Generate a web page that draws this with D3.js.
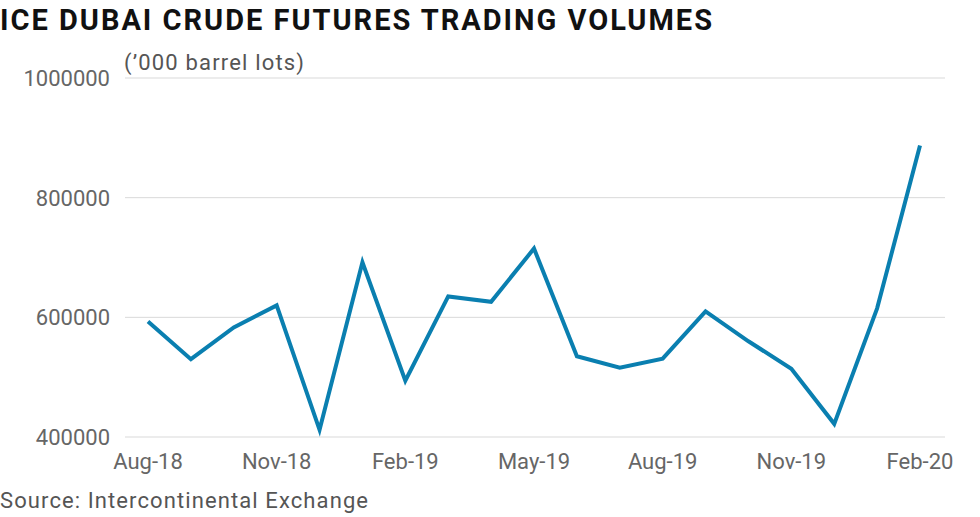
<!DOCTYPE html>
<html><head><meta charset="utf-8">
<script src="https://cdn.jsdelivr.net/npm/d3@7"></script>
<style>body{margin:0;background:#fff;font-family:Roboto,"Noto Sans",sans-serif;}</style>
</head><body><svg id="c" width="980" height="517"></svg>
<script>
const months=["Aug-18","Sep-18","Oct-18","Nov-18","Dec-18","Jan-19","Feb-19","Mar-19","Apr-19","May-19","Jun-19","Jul-19","Aug-19","Sep-19","Oct-19","Nov-19","Dec-19","Jan-20","Feb-20"];
const volumes=[593000,530000,583000,620000,412000,692000,494000,635000,626000,715000,535000,516000,531000,610000,560000,514000,422000,615000,887000];
const xTicks=["Aug-18","Nov-18","Feb-19","May-19","Aug-19","Nov-19","Feb-20"];
const yTicks=[400000,600000,800000,1000000];
const svg=d3.select("#c");
const x=d3.scalePoint().domain(months).range([148,920]);
const y=d3.scaleLinear().domain([400000,1000000]).range([437,78]);
svg.append("text").attr("x",0).attr("y",30).attr("font-size",29).attr("font-weight",700).attr("fill","#111").attr("textLength",712).text("ICE DUBAI CRUDE FUTURES TRADING VOLUMES");
svg.append("text").attr("x",124).attr("y",70).attr("font-size",22).attr("fill","#555").attr("textLength",180).text("(’000 barrel lots)");
const g=svg.append("g");
yTicks.forEach(t=>{
  g.append("line").attr("x1",125).attr("x2",945).attr("y1",y(t)).attr("y2",y(t)).attr("stroke","#d9d9d9").attr("stroke-width",1);
  g.append("text").attr("x",110).attr("y",y(t)+8).attr("text-anchor","end").attr("font-size",22).attr("fill","#666").text(t);
});
xTicks.forEach(t=>{
  g.append("text").attr("x",x(t)).attr("y",469).attr("text-anchor","middle").attr("font-size",22).attr("fill","#666").text(t);
});
svg.append("path").datum(volumes).attr("fill","none").attr("stroke","#0a7fb0").attr("stroke-width",4).attr("stroke-linejoin","miter")
 .attr("d",d3.line().x((d,i)=>x(months[i])).y(d=>y(d)));
svg.append("text").attr("x",0).attr("y",508).attr("font-size",22).attr("fill","#555").attr("textLength",368).text("Source: Intercontinental Exchange");
</script></body></html>
